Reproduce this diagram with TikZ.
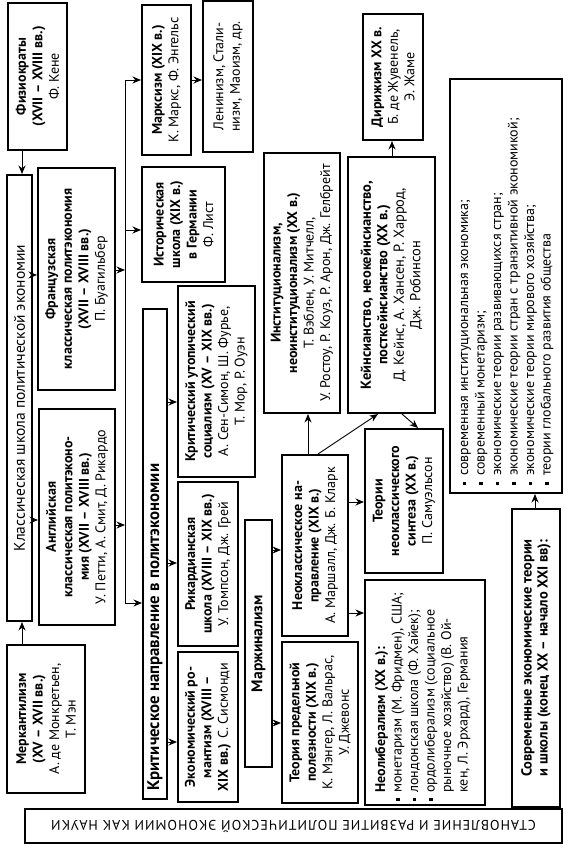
\documentclass[tikz,border=0pt]{standalone}
\usepackage{fontspec}
\setmainfont{PT Sans}
\newfontfamily\ttlfont{PT Sans}[LetterSpace=7]
\usetikzlibrary{arrows.meta}
\newcommand\hd[1]{\textbf{#1}}
\newcommand\sqb{\rule[0.28ex]{3.2pt}{3.2pt}}
\tikzset{
  box/.style={draw, line width=2pt, inner sep=0pt, fill=white},
  vt/.style={rotate=90, align=center, inner sep=0pt, font=\fontsize{14}{16.5}\selectfont},
  conn/.style={line width=0.9pt, -{Stealth[length=8.5pt,width=7pt]}},
  plain/.style={line width=0.9pt}
}
\newcommand\mkbox[5]{\node[box, minimum width={(#4)-(#2)}, minimum height={(#5)-(#3)}] (#1) at ({((#2)+(#4))/2},{((#3)+(#5))/2}) {};}
\begin{document}
\begin{tikzpicture}[x=1pt,y=-1pt]
\fill[white] (0,0) rectangle (575,850);
\useasboundingbox (0,0) rectangle (575,850);
% boxes
\mkbox{fiz}{8}{3}{67}{150}
\mkbox{klass}{7}{175}{32}{621}
\mkbox{merc}{7}{645}{85}{793}
\mkbox{title}{25}{809}{562}{843}
\mkbox{french}{38}{168}{115}{390}
\mkbox{english}{39}{409}{115}{625}
\mkbox{marx}{142}{5}{191}{155}
\mkbox{lenin}{203}{1}{253}{152}
\mkbox{hist}{142}{167}{225}{282}
\mkbox{crit}{143}{309}{167}{799}
\mkbox{utop}{178}{286}{255}{477}
\mkbox{ricard}{178}{482}{238}{646}
\mkbox{roman}{178}{652}{238}{802}
\mkbox{margin}{245}{520}{272}{767}
\mkbox{neo}{282}{455}{348}{636}
\mkbox{margu}{282}{642}{358}{803}
\mkbox{inst}{264}{153}{340}{413}
\mkbox{keynes}{348}{157}{435}{413}
\mkbox{dirig}{363}{14}{423}{140}
\mkbox{synth}{365}{429}{443}{573}
\mkbox{neolib}{365}{580}{485}{805}
\mkbox{modern}{512}{509}{560}{807}
\mkbox{list}{450}{79}{562}{493}
% texts
\node[vt] (fizT) at (fiz) {\hd{Физиократы}\\\hd{(XVII – XVIII вв.)}\\Ф. Кене};
\node[vt, font=\fontsize{15.5}{17}\selectfont] (klassT) at (klass) {Классическая школа политической экономии};
\node[vt] (mercT) at (merc) {\hd{Меркантилизм}\\\hd{(XV – XVII вв.)}\\А. де Монкретьен,\\Т. Мэн};
\node[rotate=180, inner sep=0pt, font=\ttlfont\fontsize{14}{16}\selectfont] (titleT) at (title) {СТАНОВЛЕНИЕ И РАЗВИТИЕ ПОЛИТИЧЕСКОЙ ЭКОНОМИИ КАК НАУКИ};
\node[vt] (frenchT) at (french) {\hd{Французская}\\\hd{классическая политэкономия}\\\hd{(XVII – XVIII вв.)}\\П. Буагильбер};
\node[vt] (englishT) at (english) {\hd{Английская}\\\hd{классическая политэконо-}\\\hd{мия (XVII – XVIII вв.)}\\У. Петти, А. Смит, Д. Рикардо};
\node[vt] (marxT) at (marx) {\hd{Марксизм (XIX в.)}\\К. Маркс, Ф. Энгельс};
\node[vt] (leninT) at (lenin) {Ленинизм, Стали-\\низм, Маоизм, др.};
\node[vt] (histT) at (hist) {\hd{Историческая}\\\hd{школа (XIX в.)}\\\hd{в Германии}\\Ф. Лист};
\coordinate (critP) at (155,791);
\node[vt, anchor=west, font=\bfseries\fontsize{16.8}{18}\selectfont] (critT) at (critP) {Критическое направление в политэкономии};
\node[vt] (utopT) at (utop) {\hd{Критический утопический}\\\hd{социализм (XV – XIX вв.)}\\А. Сен-Симон, Ш. Фурье,\\Т. Мор, Р. Оуэн};
\node[vt] (ricardT) at (ricard) {\hd{Рикардианская}\\\hd{школа (XVIII – XIX вв.)}\\У. Томпсон, Дж. Грей};
\node[vt] (romanT) at (roman) {\hd{Экономический ро-}\\\hd{мантизм (XVIII –}\\\hd{XIX вв.)} С. Сисмонди};
\node[vt, font=\bfseries\fontsize{15.5}{17}\selectfont] (marginT) at (margin) {Маржинализм};
\node[vt] (neoT) at (neo) {\hd{Неоклассическое на-}\\\hd{правление (XIX в.)}\\А. Маршалл, Дж. Б. Кларк};
\node[vt] (marguT) at (margu) {\hd{Теория предельной}\\\hd{полезности (XIX в.)}\\К. Мэнгер, Л. Вальрас,\\У. Джевонс};
\node[vt] (instT) at (inst) {\hd{Институционализм,}\\\hd{неоинституционализм (XX в.)}\\Т. Вэблен, У. Митчелл,\\У. Ростоу, Р. Коуз, Р. Арон, Дж. Гелбрейт};
\node[vt, font=\fontsize{14.5}{16.5}\selectfont] (keynesT) at (keynes) {\hd{Кейнсианство, неокейнсианство,}\\\hd{посткейнсианство (XX в.)}\\Д. Кейнс, А. Хансен, Р. Харрод,\\Дж. Робинсон};
\node[vt] (dirigT) at (dirig) {\hd{Дирижизм XX в.}\\Б. де Жувенель,\\Э. Жаме};
\node[vt] (synthT) at (synth) {\hd{Теории}\\\hd{неоклассического}\\\hd{синтеза (XX в.)}\\П. Самуэльсон};
\coordinate (neolibP) at (423,801);
\node[vt, anchor=west, align=left] (neolibT) at (neolibP) {\begin{tabular}{@{}l@{\hspace{5pt}}l@{}}
 & \hd{Неолиберализм (XX в.):}\\
\sqb & монетаризм (М. Фридмен), США;\\
\sqb & лондонская школа (Ф. Хайек);\\
\sqb & ордолиберализм (социальное\\
 & рыночное хозяйство) (В. Ой-\\
 & кен, Л. Эрхард), Германия
\end{tabular}};
\node[vt, font=\fontsize{14.5}{16}\selectfont] (modernT) at (modern) {\hd{Современные экономические теории}\\\hd{и школы (конец XX – начало XXI вв):}};
\coordinate (listP) at (506,485);
\node[vt, anchor=west, align=left] (listT) at (listP) {\begin{tabular}{@{}l@{\hspace{6pt}}l@{}}
\sqb & современная институциональная экономика;\\
\sqb & современный монетаризм;\\
\sqb & экономические теории развивающихся стран;\\
\sqb & экономические теории стран с транзитивной экономикой;\\
\sqb & экономические теории мирового хозяйства;\\
\sqb & теории глобального развития общества
\end{tabular}};
% helper coordinates
\coordinate (fk) at (22,0);
\coordinate (kf) at (0,275);
\coordinate (ke) at (0,520);
\coordinate (vtop) at (125,80);
\coordinate (vhist) at (125,230);
\coordinate (vfr) at (125,270);
\coordinate (ven) at (125,525);
\coordinate (vbot) at (125,603);
\coordinate (ml) at (0,80);
\coordinate (cu) at (0,402);
\coordinate (cr) at (0,563);
\coordinate (cm) at (0,742);
\coordinate (mn) at (0,550);
\coordinate (mu) at (0,723);
\coordinate (ni) at (308,0);
\coordinate (nk1) at (318,0);
\coordinate (nk2) at (378,0);
\coordinate (ns) at (0,502);
\coordinate (nl) at (0,613);
\coordinate (kd) at (392,0);
\coordinate (ks1) at (402,0);
\coordinate (ks2) at (418,0);
\coordinate (ml2) at (535,0);
% connectors
\draw[conn] (fiz.south -| fk) -- (klass.north -| fk);
\draw[conn] (merc.north -| fk) -- (klass.south -| fk);
\draw[conn] (klass.east |- kf) -- (french.west |- kf);
\draw[conn] (klass.east |- ke) -- (english.west |- ke);
\draw[plain] (vtop) -- (vbot);
\draw[conn] (french.east |- vfr) -- (vfr);
\draw[conn] (english.east |- ven) -- (ven);
\draw[conn] (vtop) -- (marx.west |- vtop);
\draw[conn] (vhist) -- (hist.west |- vhist);
\draw[conn] (vbot) -- (crit.west |- vbot);
\draw[conn] (marx.east |- ml) -- (lenin.west |- ml);
\draw[conn] (crit.east |- cu) -- (utop.west |- cu);
\draw[conn] (crit.east |- cr) -- (ricard.west |- cr);
\draw[conn] (crit.east |- cm) -- (roman.west |- cm);
\draw[conn] (margin.east |- mn) -- (neo.west |- mn);
\draw[conn] (margin.east |- mu) -- (margu.west |- mu);
\draw[conn] (neo.north -| ni) -- (inst.south -| ni);
\draw[conn] (neo.north -| nk1) -- (keynes.south -| nk2);
\draw[conn] (neo.east |- ns) -- (synth.west |- ns);
\draw[conn] (neo.east |- nl) -- (neolib.west |- nl);
\draw[conn] (keynes.north -| kd) -- (dirig.south -| kd);
\draw[conn] (keynes.south -| ks1) -- (synth.north -| ks2);
\draw[conn] (modern.north -| ml2) -- (list.south -| ml2);
\end{tikzpicture}
\end{document}
